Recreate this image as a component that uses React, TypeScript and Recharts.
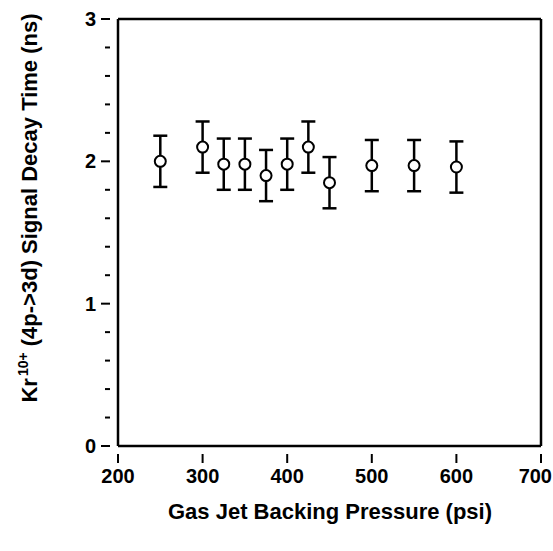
import React from 'react';
import { ScatterChart, Scatter, XAxis, YAxis, ErrorBar, ReferenceLine } from 'recharts';

const pressures = [250, 300, 325, 350, 375, 400, 425, 450, 500, 550, 600];
const decayTimes = [2.0, 2.1, 1.98, 1.98, 1.9, 1.98, 2.1, 1.85, 1.97, 1.97, 1.96];
const errors = [0.18, 0.18, 0.18, 0.18, 0.18, 0.18, 0.18, 0.18, 0.18, 0.18, 0.18];
const xTicks = [200, 300, 400, 500, 600, 700];
const yTicks = [0, 0.2, 0.4, 0.6, 0.8, 1, 1.2, 1.4, 1.6, 1.8, 2, 2.2, 2.4, 2.6, 2.8, 3];

const data = pressures.map((p, i) => ({ x: p, y: decayTimes[i], err: errors[i] }));

const FONT = '"Liberation Sans", Arial, Helvetica, sans-serif';
const CHART_W = 553;

const YTick = (props: any) => {
  const { x, y, payload } = props;
  const v = payload.value;
  const major = Math.abs(v - Math.round(v)) < 1e-6;
  return (
    <g>
      <line x1={x - (major ? 9 : 5)} x2={x} y1={y} y2={y} stroke="#000" strokeWidth={2} />
      {major && (
        <text x={x - 14} y={y} dy={7} textAnchor="end" fontFamily={FONT} fontWeight="bold" fontSize={20} fill="#000">
          {Math.round(v)}
        </text>
      )}
    </g>
  );
};

const XTick = (props: any) => {
  const { x, y, payload } = props;
  // keep the last label inside the page, the original sits flush with the edge
  const tooFar = x + 18 > CHART_W;
  return (
    <g>
      <line x1={x} x2={x} y1={y} y2={y + 9} stroke="#000" strokeWidth={2} />
      <text
        x={tooFar ? CHART_W - 1 : x}
        y={y + 29}
        textAnchor={tooFar ? 'end' : 'middle'}
        fontFamily={FONT}
        fontWeight="bold"
        fontSize={20}
        fill="#000"
      >
        {payload.value}
      </text>
    </g>
  );
};

const Marker = (props: any) => {
  const { cx, cy } = props;
  return <circle cx={cx} cy={cy} r={5.5} fill="#fff" stroke="#000" strokeWidth={2} />;
};

const YLabel = () => (
  <text
    transform="translate(37, 208) rotate(-90)"
    textAnchor="middle"
    fontFamily={FONT}
    fontWeight="bold"
    fontSize={22}
    fill="#000"
  >
    Kr<tspan dx={2} dy={-9} fontSize={14}>10+</tspan>
    <tspan dy={9}> (4p-&gt;3d) Signal Decay Time (ns)</tspan>
  </text>
);

export default function App() {
  return (
    <div style={{ position: 'absolute', left: 0, top: 0, background: '#fff' }}>
      <ScatterChart width={CHART_W} height={551} margin={{ top: 19, right: 12, bottom: 0, left: 0 }}>
        <XAxis
          type="number"
          dataKey="x"
          domain={[200, 700]}
          ticks={xTicks}
          interval={0}
          allowDataOverflow
          axisLine={{ stroke: '#000', strokeWidth: 2.5 }}
          tickLine={false}
          tick={<XTick />}
          height={105}
        />
        <YAxis
          type="number"
          dataKey="y"
          domain={[0, 3]}
          ticks={yTicks}
          interval={0}
          allowDataOverflow
          axisLine={{ stroke: '#000', strokeWidth: 2.5 }}
          tickLine={false}
          tick={<YTick />}
          width={118}
        />
        <ReferenceLine y={3} stroke="#000" strokeWidth={2.5} />
        <ReferenceLine x={700} stroke="#000" strokeWidth={2.5} />
        <Scatter data={data} shape={<Marker />} isAnimationActive={false}>
          <ErrorBar dataKey="err" direction="y" width={7} stroke="#000" strokeWidth={2.5} />
        </Scatter>
        <text x={330} y={519} textAnchor="middle" fontFamily={FONT} fontWeight="bold" fontSize={22} fill="#000">
          Gas Jet Backing Pressure (psi)
        </text>
        <YLabel />
      </ScatterChart>
    </div>
  );
}
